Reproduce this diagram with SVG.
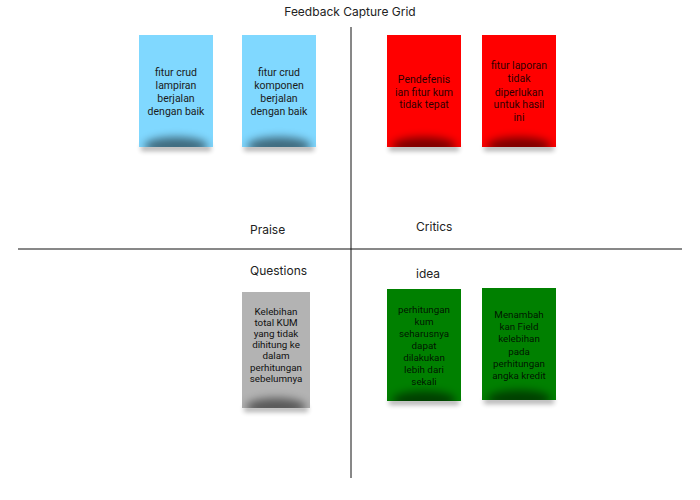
<svg xmlns="http://www.w3.org/2000/svg" width="700" height="500" viewBox="0 0 700 500">
<defs>
<filter id="blur" x="-30%" y="-100%" width="160%" height="300%"><feGaussianBlur stdDeviation="2.5"/></filter>
<filter id="blur2" x="-40%" y="-150%" width="180%" height="400%"><feGaussianBlur stdDeviation="4.5"/></filter>
<clipPath id="c1"><rect x="139" y="35" width="74" height="112"/></clipPath>
<clipPath id="c2"><rect x="242" y="35" width="74" height="112"/></clipPath>
<clipPath id="c3"><rect x="387" y="35" width="74" height="112"/></clipPath>
<clipPath id="c4"><rect x="482" y="35" width="74" height="112"/></clipPath>
<clipPath id="c5"><rect x="242" y="292" width="68" height="116"/></clipPath>
<clipPath id="c6"><rect x="387" y="289" width="74" height="112"/></clipPath>
<clipPath id="c7"><rect x="482" y="288" width="74" height="112"/></clipPath>
</defs>
<style>
.title{font-family:Inter,"Liberation Sans",sans-serif;font-size:12px;fill:#222}
.lbl{font-family:Inter,"Liberation Sans",sans-serif;font-size:12px;fill:#222}
.nt{font-family:Roboto,"Liberation Sans",sans-serif;font-size:10.5px;text-anchor:middle}
.ng{font-family:Roboto,"Liberation Sans",sans-serif;font-size:9.8px;text-anchor:middle;fill:#111}
.dark{fill:#1b1b1b}
.ondark{fill:#000;fill-opacity:0.85}
.axis{stroke:#111;stroke-width:1}
.drop{fill:#000;opacity:0.3}
.shade{fill:#000;opacity:0.5}
</style>
<text class="title" x="350" y="16" text-anchor="middle">Feedback Capture Grid</text>
<g id="connectors">
<line class="axis" x1="351" y1="27" x2="351" y2="478"/>
<line class="axis" x1="18" y1="249" x2="682" y2="249"/>
</g>
<g id="labels">
<text class="lbl" x="250" y="234">Praise</text>
<text class="lbl" x="416" y="231">Critics</text>
<text class="lbl" x="250" y="275">Questions</text>
<text class="lbl" x="416" y="278">idea</text>
</g>
<g id="note1">
<rect class="drop" x="141" y="145" width="70" height="6" filter="url(#blur)"/>
<rect x="139" y="35" width="74" height="112" fill="#80d8ff"/>
<g clip-path="url(#c1)"><ellipse class="shade" cx="176" cy="146" rx="32" ry="9" filter="url(#blur2)"/></g>
<text class="nt dark"><tspan x="176" y="76">fitur crud</tspan><tspan x="176" y="89">lampiran</tspan><tspan x="176" y="102">berjalan</tspan><tspan x="176" y="115">dengan baik</tspan></text>
</g>
<g id="note2">
<rect class="drop" x="244" y="145" width="70" height="6" filter="url(#blur)"/>
<rect x="242" y="35" width="74" height="112" fill="#80d8ff"/>
<g clip-path="url(#c2)"><ellipse class="shade" cx="279" cy="146" rx="32" ry="9" filter="url(#blur2)"/></g>
<text class="nt dark"><tspan x="279" y="76">fitur crud</tspan><tspan x="279" y="89">komponen</tspan><tspan x="279" y="102">berjalan</tspan><tspan x="279" y="115">dengan baik</tspan></text>
</g>
<g id="note3">
<rect class="drop" x="389" y="145" width="70" height="6" filter="url(#blur)"/>
<rect x="387" y="35" width="74" height="112" fill="#ff0000"/>
<g clip-path="url(#c3)"><ellipse class="shade" cx="424" cy="146" rx="32" ry="9" filter="url(#blur2)"/></g>
<text class="nt ondark"><tspan x="424" y="83">Pendefenis</tspan><tspan x="424" y="96">ian fitur kum</tspan><tspan x="424" y="108">tidak tepat</tspan></text>
</g>
<g id="note4">
<rect class="drop" x="484" y="145" width="70" height="6" filter="url(#blur)"/>
<rect x="482" y="35" width="74" height="112" fill="#ff0000"/>
<g clip-path="url(#c4)"><ellipse class="shade" cx="519" cy="146" rx="32" ry="9" filter="url(#blur2)"/></g>
<text class="nt ondark"><tspan x="519" y="69">fitur laporan</tspan><tspan x="519" y="82">tidak</tspan><tspan x="519" y="96">diperlukan</tspan><tspan x="519" y="108">untuk hasil</tspan><tspan x="519" y="121">ini</tspan></text>
</g>
<g id="note5">
<rect class="drop" x="244" y="406" width="64" height="6" filter="url(#blur)"/>
<rect x="242" y="292" width="68" height="116" fill="#b3b3b3"/>
<g clip-path="url(#c5)"><ellipse class="shade" cx="276" cy="407" rx="30" ry="9" filter="url(#blur2)"/></g>
<text class="ng"><tspan x="276" y="315">Kelebihan</tspan><tspan x="276" y="326">total KUM</tspan><tspan x="276" y="337">yang tidak</tspan><tspan x="276" y="348">dihitung ke</tspan><tspan x="276" y="359">dalam</tspan><tspan x="276" y="371">perhitungan</tspan><tspan x="276" y="382">sebelumnya</tspan></text>
</g>
<g id="note6">
<rect class="drop" x="389" y="399" width="70" height="6" filter="url(#blur)"/>
<rect x="387" y="289" width="74" height="112" fill="#008000"/>
<g clip-path="url(#c6)"><ellipse class="shade" cx="424" cy="400" rx="32" ry="9" filter="url(#blur2)"/></g>
<text class="ng ondark"><tspan x="424" y="313">perhitungan</tspan><tspan x="424" y="325">kum</tspan><tspan x="424" y="337">seharusnya</tspan><tspan x="424" y="349">dapat</tspan><tspan x="424" y="361">dilakukan</tspan><tspan x="424" y="373">lebih dari</tspan><tspan x="424" y="385">sekali</tspan></text>
</g>
<g id="note7">
<rect class="drop" x="484" y="398" width="70" height="6" filter="url(#blur)"/>
<rect x="482" y="288" width="74" height="112" fill="#008000"/>
<g clip-path="url(#c7)"><ellipse class="shade" cx="519" cy="399" rx="32" ry="9" filter="url(#blur2)"/></g>
<text class="ng ondark"><tspan x="519" y="318">Menambah</tspan><tspan x="519" y="330">kan Field</tspan><tspan x="519" y="342">kelebihan</tspan><tspan x="519" y="355">pada</tspan><tspan x="519" y="367">perhitungan</tspan><tspan x="519" y="379">angka kredit</tspan></text>
</g>
</svg>
